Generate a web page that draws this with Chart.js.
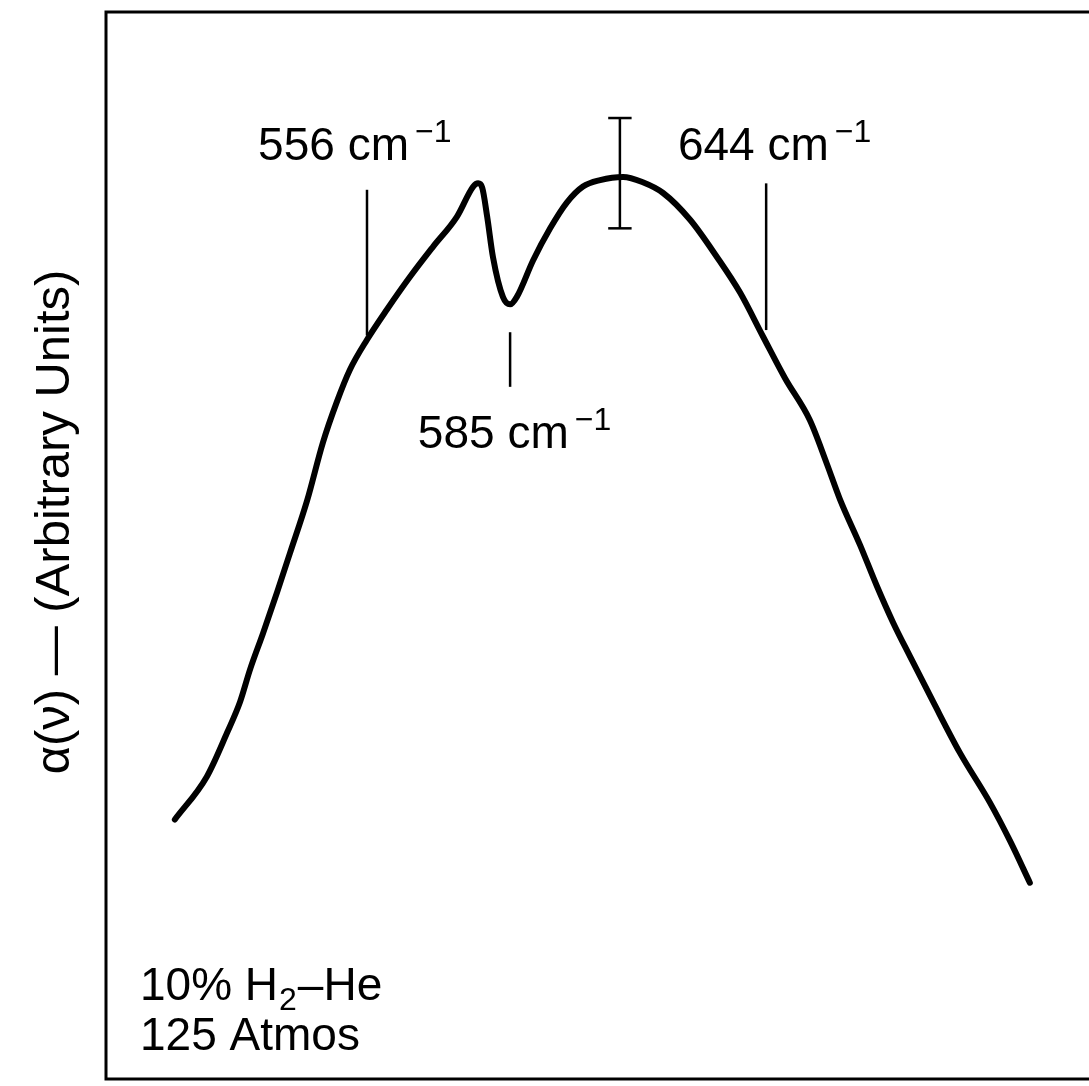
<!DOCTYPE html>
<html>
<head>
<meta charset="utf-8">
<script src="https://cdn.jsdelivr.net/npm/chart.js@4/dist/chart.umd.min.js"></script>
<style>
  html, body { margin: 0; padding: 0; background: #fff; overflow: hidden; }
  #wrap { width: 1100px; height: 1086px; }
</style>
</head>
<body>
<div id="wrap"><canvas id="chart" width="1100" height="1086"></canvas></div>
<script>
// frequency (cm^-1)
var wavenumber = [513.3, 520.4, 524.9, 527.8, 530.0, 532.9, 536.0, 538.9, 542.7, 546.2,
    549.3, 552.2, 556.0, 560.4, 565.6, 570.7, 576.0, 579.6, 580.7, 581.6,
    582.7, 584.0, 586.2, 587.8, 589.3, 592.9, 596.7, 600.4, 604.0, 607.8,
    612.9, 617.3, 621.8, 627.8, 633.8, 638.9, 644.0, 648.9, 654.4, 658.2,
    661.1, 665.6, 669.3, 672.9, 676.7, 681.8, 687.8, 694.4, 698.9, 703.3];
// absorption, arbitrary units
var alpha = [24.6, 28.6, 32.7, 35.6, 38.6, 42.0, 45.8, 49.5, 54.4, 59.8,
    63.6, 66.6, 69.4, 72.2, 75.3, 78.1, 80.9, 83.7, 84.0, 83.6,
    80.9, 77.1, 73.4, 72.7, 73.4, 76.8, 79.8, 82.2, 83.7, 84.3,
    84.6, 84.1, 83.1, 80.6, 77.1, 73.8, 69.7, 65.8, 61.9, 57.8,
    54.5, 50.2, 46.4, 43.0, 39.8, 35.6, 30.8, 26.2, 22.6, 18.7];

// marker ticks: [x, yFrom, yTo]
var tick556 = [556.0, 69.8, 83.4];
var tick585 = [587.8, 65.0, 70.1];
var tick644 = [644.7, 70.3, 84.0];
// error bar at the maximum: [x, low, high]
var errorBar = [612.2, 79.8, 90.1];

// labels: text, superscript, x, baseline y (data units)
var peakLabels = [
    ['556 cm', '\u22121', 531.8, 86.2],
    ['585 cm', '\u22121', 567.3, 59.3],
    ['644 cm', '\u22121', 625.1, 86.2]
];

var FONT = '"Liberation Sans", Arial, sans-serif';

function seg(x0, y0, x1, y1, w) {
    return {
        data: [{x: x0, y: y0}, {x: x1, y: y1}],
        borderColor: '#000',
        borderWidth: w,
        pointRadius: 0,
        tension: 0,
        borderCapStyle: 'butt'
    };
}

var traceData = wavenumber.map(function (v, i) { return {x: v, y: alpha[i]}; });

var datasets = [
    {
        data: traceData,
        borderColor: '#000',
        borderWidth: 6,
        pointRadius: 0,
        cubicInterpolationMode: 'monotone',
        borderCapStyle: 'round',
        borderJoinStyle: 'round'
    },
    seg(tick556[0], tick556[1], tick556[0], tick556[2], 2.5),
    seg(tick585[0], tick585[1], tick585[0], tick585[2], 2.5),
    seg(tick644[0], tick644[1], tick644[0], tick644[2], 2.5),
    seg(errorBar[0], errorBar[1], errorBar[0], errorBar[2], 2.5),
    seg(errorBar[0] - 2.6, errorBar[1], errorBar[0] + 2.6, errorBar[1], 2.5),
    seg(errorBar[0] - 2.6, errorBar[2], errorBar[0] + 2.6, errorBar[2], 2.5)
];

function drawSup(ctx, x, y, text, sup) {
    ctx.font = '46px ' + FONT;
    ctx.fillText(text, x, y);
    var w = ctx.measureText(text).width;
    ctx.font = '32px ' + FONT;
    ctx.fillText(sup, x + w + 6, y - 18);
}

var decor = {
    id: 'decor',
    afterDraw: function (chart) {
        var ctx = chart.ctx;
        var a = chart.chartArea;
        var xs = chart.scales.x, ys = chart.scales.y;
        ctx.save();
        ctx.strokeStyle = '#000';
        ctx.lineWidth = 3;
        ctx.strokeRect(a.left, a.top, a.right - a.left, a.bottom - a.top);

        ctx.fillStyle = '#000';
        ctx.textBaseline = 'alphabetic';
        ctx.textAlign = 'left';
        peakLabels.forEach(function (l) {
            drawSup(ctx, xs.getPixelForValue(l[2]), ys.getPixelForValue(l[3]), l[0], l[1]);
        });

        // sample note, bottom left
        var nx = a.left + 34;
        ctx.font = '46px ' + FONT;
        ctx.fillText('10% H', nx, 1000);
        var w = ctx.measureText('10% H').width;
        ctx.font = '32px ' + FONT;
        ctx.fillText('2', w + nx + 1, 1010);
        var w2 = ctx.measureText('2').width;
        ctx.font = '46px ' + FONT;
        ctx.fillText('\u2013He', nx + w + w2 + 2, 1000);
        ctx.fillText('125 Atmos', nx, 1050);

        // y-axis title
        ctx.translate(69, 522);
        ctx.rotate(-Math.PI / 2);
        ctx.textAlign = 'center';
        ctx.font = '49px ' + FONT;
        ctx.fillText('\u03b1(\u03bd) \u2014 (Arbitrary Units)', 0, 0);
        ctx.restore();
    }
};

new Chart(document.getElementById('chart').getContext('2d'), {
    type: 'line',
    data: { datasets: datasets },
    options: {
        responsive: false,
        animation: false,
        layout: { padding: { left: 106, top: 12, right: 4, bottom: 7 } },
        plugins: { legend: { display: false }, tooltip: { enabled: false } },
        scales: {
            x: { type: 'linear', min: 498, max: 718, display: false },
            y: { type: 'linear', min: 0.37, max: 100, display: false }
        }
    },
    plugins: [decor]
});
</script>
</body>
</html>
